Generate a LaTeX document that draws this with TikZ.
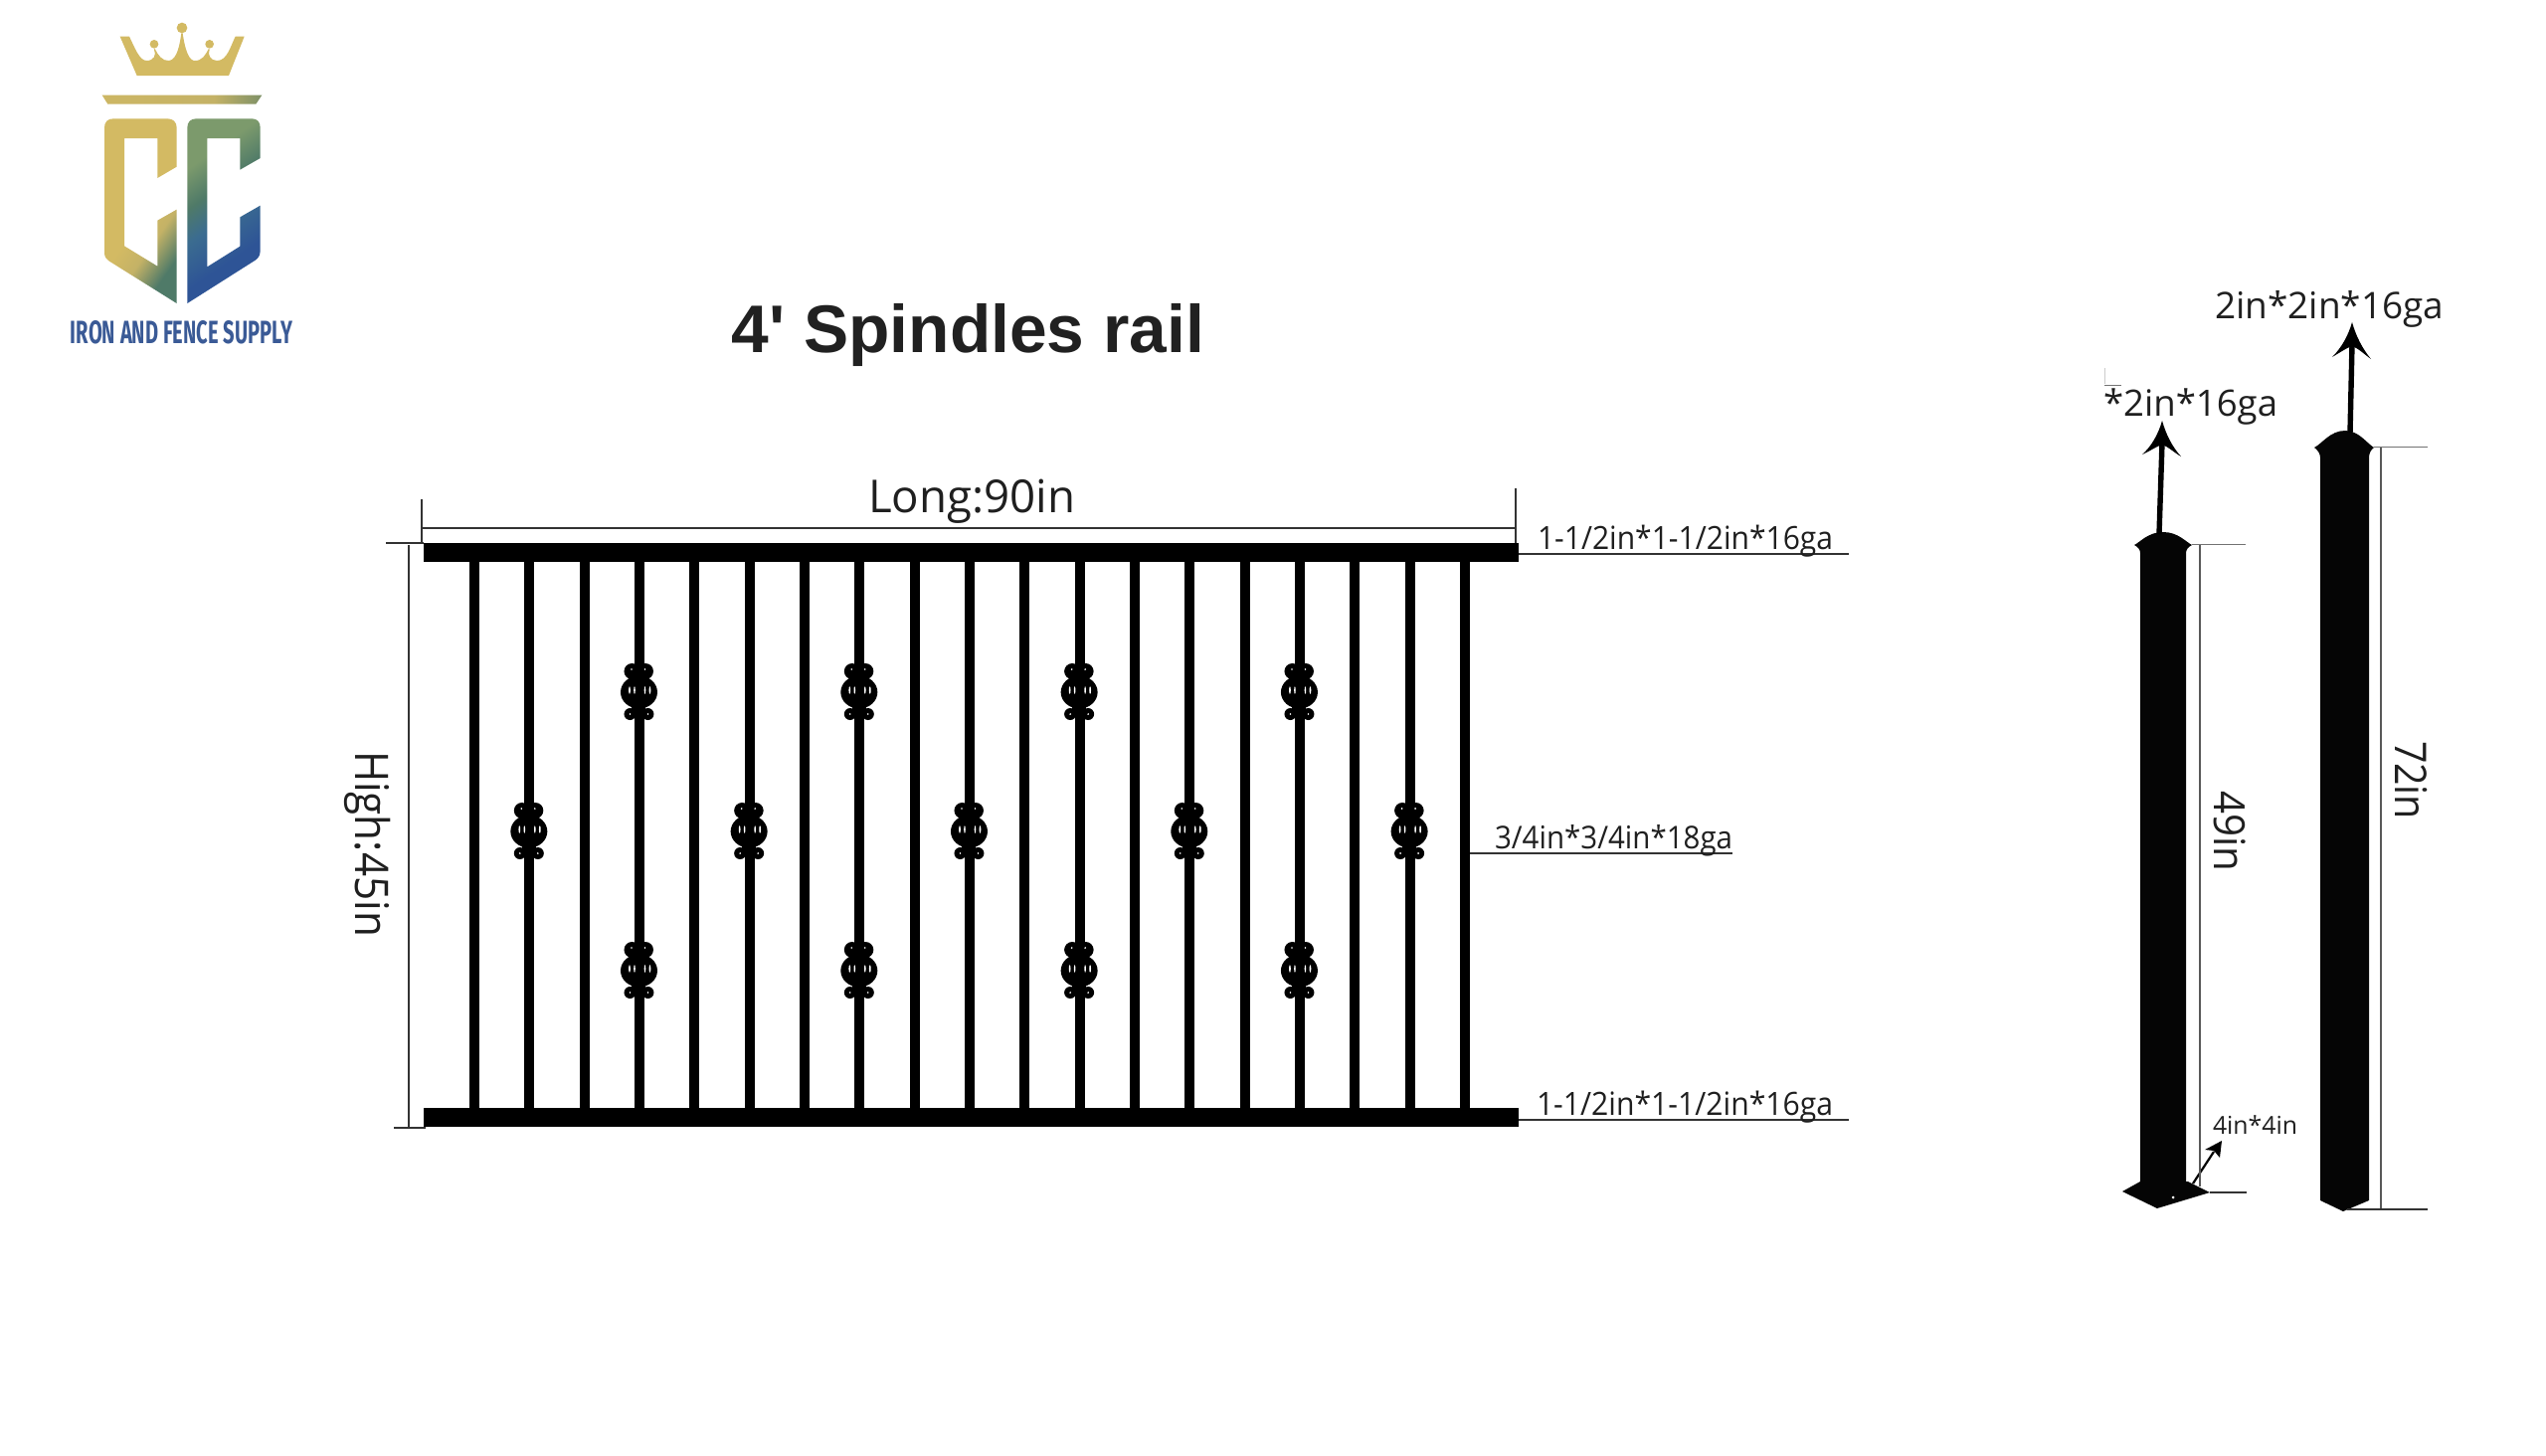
\documentclass[tikz,border=0pt]{standalone}
\usepackage{graphicx}
\usepackage{fontspec}
\setmainfont{Open Sans}
\newfontfamily\titlefont{Liberation Sans}
\newfontfamily\logofont{Fira Sans}
\usetikzlibrary{arrows.meta}
\definecolor{logoblue}{HTML}{3A5A96}
\definecolor{gA}{HTML}{D3BA63}
\definecolor{gB}{HTML}{C4B266}
\definecolor{gC}{HTML}{4F7A68}
\definecolor{gD}{HTML}{3B6C90}
\definecolor{gE}{HTML}{2E5496}
\definecolor{gF}{HTML}{7C9A6C}
\pgfdeclarehorizontalshading{cleft}{100bp}{color(0bp)=(gA); color(52bp)=(gA); color(62bp)=(gB); color(74bp)=(gC); color(100bp)=(gC)}
\pgfdeclarehorizontalshading{cright}{100bp}{color(0bp)=(gF); color(30bp)=(gF); color(42bp)=(gC); color(52bp)=(gD); color(66bp)=(gE); color(100bp)=(gE)}
\pgfdeclarehorizontalshading{barfill}{100bp}{color(0bp)=(gA); color(60bp)=(gB); color(85bp)=(gC); color(100bp)=(gC)}
\newcommand{\wtext}[3][1]{\scalebox{1}[#1]{\resizebox{\dimexpr #2pt/2\relax}{!}{#3}}}
\tikzset{
  thinline/.style={draw=black!80,line width=0.7pt},
  midline/.style={draw=black!65,line width=0.7pt},
  faint/.style={draw=black!55,line width=0.5pt},
  steel/.style={fill=black,draw=none},
  post/.style={fill=black!98,draw=none},
  lab/.style={inner sep=0pt,outer sep=0pt,text=black!88,anchor=base},
  orn/.pic={
    \fill[black] (-3,-32) rectangle (3,32);
    \fill[black] (-7,-21) circle[radius=8];
    \fill[black] (6.5,-21) circle[radius=8];
    \fill[black] (-9,22) circle[radius=6];
    \fill[black] (9,22) circle[radius=6];
    \fill[black] (-10,-16) rectangle (10,10);
    \fill[black] (-7,10) rectangle (7,24);
    \fill[black] (0,0) ellipse[x radius=18.5,y radius=16.5];
    \fill[white] (-9.5,-2) ellipse[x radius=0.9,y radius=3.8];
    \fill[white] (-4.5,-2) ellipse[x radius=0.8,y radius=3.8];
    \fill[white] (6,-2) ellipse[x radius=0.8,y radius=3.8];
    \fill[white] (11,-2) ellipse[x radius=0.9,y radius=3.8];
    \fill[white] (-7.5,-23) circle[radius=0.9];
    \fill[white] (6,-23) circle[radius=0.9];
    \fill[white] (-9,22) circle[radius=0.9];
    \fill[white] (9,22) circle[radius=0.9];
  }
}
\begin{document}
\begin{tikzpicture}[x=0.5pt,y=-0.5pt]
\useasboundingbox[fill=white] (0,0) rectangle (2560,1463);

% logo
\begin{scope}[shift={(40,0)},x=0.16667pt,y=-0.16667pt]
  \fill[gA] (293,228) -- (570,228) -- (617,110) -- (590,110)
     .. controls (575,140) and (565,183) .. (535,183)
     .. controls (515,183) and (505,165) .. (512,150) -- (510,146)
     .. controls (500,165) and (490,185) .. (465,183)
     .. controls (445,180) and (435,130) .. (431,100) -- (427,100)
     .. controls (423,130) and (415,180) .. (390,183)
     .. controls (370,185) and (355,165) .. (347,146) -- (345,150)
     .. controls (352,165) and (345,183) .. (322,183)
     .. controls (300,183) and (285,140) .. (270,110) -- (242,110) -- cycle;
  \fill[gA] (429,84) circle[radius=16];
  \fill[gA] (345,133) circle[radius=13];
  \fill[gA] (512,133) circle[radius=13];
  \shade[shading=barfill] (188,287) -- (670,287) -- (652,314) -- (205,314) -- cycle;
  \shade[shading=cleft,shading angle=-35]
     (195,385) .. controls (195,368) and (205,358) .. (222,358) -- (385,358)
     .. controls (402,358) and (413,368) .. (413,385) -- (413,503) -- (355,537)
     -- (355,417) -- (255,417) -- (255,742) -- (355,803) -- (355,665) -- (413,632)
     -- (413,915) -- (210,788) .. controls (200,780) and (195,775) .. (195,762) -- cycle;
  \shade[shading=cright,shading angle=-55]
     (445,385) .. controls (445,368) and (455,358) .. (472,358) -- (640,358)
     .. controls (656,358) and (665,368) .. (665,385) -- (665,477) -- (604,512)
     -- (604,417) -- (505,417) -- (505,805) -- (604,743) -- (604,655) -- (665,620)
     -- (665,755) .. controls (665,770) and (660,778) .. (650,785) -- (445,915) -- cycle;
\end{scope}
\node[lab,text=logoblue] (logotext) at (182.5,345) {\resizebox{111.5pt}{11.5pt}{\logofont\bfseries IRON AND FENCE SUPPLY}};

% title
\node[lab,text=black!87] (title) at (973.5,354) {\wtext{475}{\titlefont\bfseries 4' Spindles rail}};

% rails and spindles
\fill[steel] (426,546) rectangle (1527,565);
\fill[steel] (426,1114) rectangle (1527,1133);
\foreach \i in {0,...,18} {
  \pgfmathsetmacro{\xx}{477+\i*55.33}
  \fill[steel] (\xx-5,565) rectangle (\xx+5,1114);
}
\foreach \i in {1,5,9,13,17} {
  \pgfmathsetmacro{\xx}{476.5+\i*55.33}
  \pic at (\xx,836) {orn};
}
\foreach \i in {3,7,11,15} {
  \pgfmathsetmacro{\xx}{476.5+\i*55.33}
  \pic at (\xx,696) {orn};
  \pic at (\xx,976) {orn};
}

% rail dimensions
\draw[thinline] (424,502) -- (424,546);
\draw[thinline] (1524,491) -- (1524,546);
\draw[thinline] (424,531) -- (1524,531);
\draw[thinline] (388,546) -- (426,546);
\draw[thinline] (411,548) -- (411,1134);
\draw[thinline] (396,1134) -- (428,1134);
\draw[thinline] (1527,557) -- (1859,557);
\draw[thinline] (1478,858) -- (1742,858);
\draw[thinline] (1527,1126) -- (1859,1126);

\node[lab] (long) at (977,515) {\wtext{208}{Long:90in}};
\node[lab,rotate=-90] (high) at (357,848.5) {\wtext[1.1]{187}{High:45in}};
\node[lab] (railtop) at (1694.5,552) {\wtext[1.07]{297}{1-1/2in*1-1/2in*16ga}};
\node[lab] (railbot) at (1694,1121) {\wtext[1.07]{298}{1-1/2in*1-1/2in*16ga}};
\node[lab] (spin) at (1622.5,853) {\wtext[1.07]{239}{3/4in*3/4in*18ga}};

% left post
\fill[post] (2146,548) .. controls (2152,545) and (2160,535) .. (2175,535)
   .. controls (2190,535) and (2198,545) .. (2204,548)
   .. controls (2200,550) and (2198,553) .. (2198,556) -- (2198,1195) -- (2152,1195) -- (2152,556)
   .. controls (2152,553) and (2150,550) .. (2146,548) -- cycle;
\fill[post] (2134,1198) -- (2169,1215) -- (2222,1199) -- (2200,1188) -- (2152,1188) -- cycle;
\fill[white] (2185,1204) circle[radius=1.5];
% right post
\fill[post] (2327,450) .. controls (2335,446) and (2343,433) .. (2358,433)
   .. controls (2372,433) and (2380,446) .. (2387,450)
   .. controls (2384,452) and (2382,456) .. (2382,460) -- (2382,1207) -- (2356,1218) -- (2333,1207) -- (2333,460)
   .. controls (2333,456) and (2330,452) .. (2327,450) -- cycle;

% post arrows
\draw[black,line width=2.7pt] (2171,537) -- (2174,445);
\fill[black] (2174,423) .. controls (2178,437) and (2184,449) .. (2193,459)
   .. controls (2186,455) and (2180,449) .. (2174,447)
   .. controls (2168,449) and (2161,454) .. (2154,457)
   .. controls (2163,449) and (2170,437) .. (2174,423) -- cycle;
\draw[black,line width=2.7pt] (2363,435) -- (2365,346);
\fill[black] (2365,324) .. controls (2369,338) and (2375,350) .. (2384,361)
   .. controls (2377,356) and (2371,350) .. (2365,348)
   .. controls (2359,350) and (2352,355) .. (2345,359)
   .. controls (2354,350) and (2361,338) .. (2365,324) -- cycle;
\draw[black,line width=1.1pt] (2205,1190) -- (2226,1158);
\fill[black] (2234,1147) -- (2232,1164) -- (2226,1157) -- (2217,1156) -- cycle;

% post dimensions
\draw[faint] (2204,547.5) -- (2258,547.5);
\draw[midline] (2212,548) -- (2212,1193);
\draw[thinline] (2222,1199) -- (2259,1199);
\draw[faint] (2387,449.5) -- (2441,449.5);
\draw[midline] (2394,450) -- (2394,1216);
\draw[thinline] (2360,1216) -- (2441,1216);
\draw[black!20,line width=0.4pt] (2116,370) -- (2116,386);
\draw[black!55,line width=0.5pt] (2116,387) -- (2133,387);

\node[lab] (ptop) at (2342,320) {\wtext{230}{2in*2in*16ga}};
\node[lab] (ltop) at (2202.5,418) {\wtext{175}{*2in*16ga}};
\node[lab] (base) at (2267.5,1140) {\wtext{85}{4in*4in}};
\node[lab,rotate=-90] (h49) at (2226,835.5) {\wtext[1.07]{81}{49in}};
\node[lab,rotate=-90] (h72) at (2408,784.5) {\wtext[1.12]{79}{72in}};
\end{tikzpicture}
\end{document}
